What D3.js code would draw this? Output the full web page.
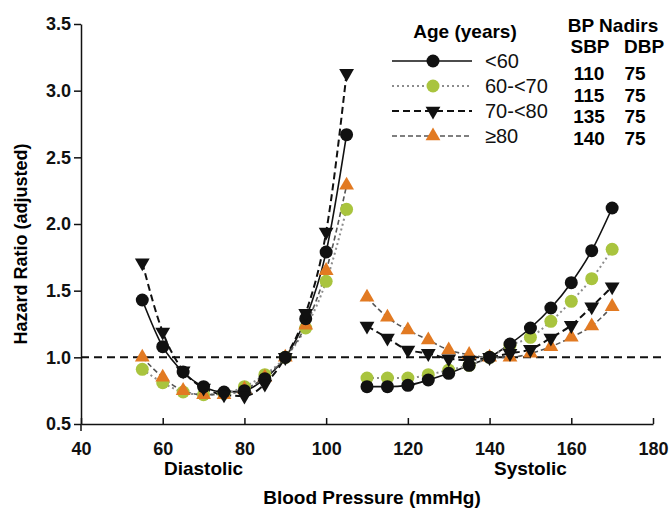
<!DOCTYPE html>
<html>
<head>
<meta charset="utf-8">
<script src="https://cdn.jsdelivr.net/npm/d3@7"></script>
<style>
  body { margin: 0; background: #fff; }
  svg { display: block; font-family: 'Liberation Sans', Arial, sans-serif; }
</style>
</head>
<body>
<svg id="chart" width="671" height="513"></svg>
<script>
// ── DATA ────────────────────────────────────────────────────────────────
const diaBP = [55, 60, 65, 70, 75, 80, 85, 90, 95, 100, 105];
const sysBP = [110, 115, 120, 125, 130, 135, 140, 145, 150, 155, 160, 165, 170];

const ageGroups = ['<60', '60-<70', '70-<80', '≥80'];

// hazard ratios, diastolic
const dia60   = [1.43, 1.08, 0.89, 0.78, 0.74, 0.75, 0.84, 1.0, 1.29, 1.79, 2.67];
const dia6070 = [0.91, 0.81, 0.74, 0.72, 0.73, 0.78, 0.87, 1.0, 1.22, 1.57, 2.11];
const dia7080 = [1.71, 1.19, 0.90, 0.77, 0.72, 0.71, 0.80, 1.0, 1.33, 1.94, 3.13];
const dia80   = [1.00, 0.85, 0.75, 0.72, 0.72, 0.76, 0.85, 1.0, 1.24, 1.65, 2.29];

// hazard ratios, systolic
const sys60   = [0.78, 0.78, 0.79, 0.83, 0.88, 0.94, 1.0, 1.10, 1.22, 1.37, 1.56, 1.80, 2.12];
const sys6070 = [0.845, 0.845, 0.845, 0.87, 0.905, 0.94, 1.0, 1.09, 1.15, 1.27, 1.42, 1.59, 1.81];
const sys7080 = [1.235, 1.145, 1.055, 1.03, 0.99, 0.98, 1.0, 1.03, 1.06, 1.145, 1.24, 1.38, 1.53];
const sys80   = [1.45, 1.30, 1.205, 1.13, 1.055, 1.02, 1.0, 1.0, 1.03, 1.08, 1.15, 1.235, 1.38];

const xTicks = [40, 60, 80, 100, 120, 140, 160, 180];
const yTicks = [0.5, 1.0, 1.5, 2.0, 2.5, 3.0, 3.5];

// BP nadir table
const nadirSBP = [110, 115, 135, 140];
const nadirDBP = [75, 75, 75, 75];

// ── STYLES PAR GROUPE ───────────────────────────────────────────────────
const styles = [
  { symbol: 'circle', fill: '#111', stroke: '#111', dash: null,      width: 1.6 },
  { symbol: 'circle', fill: '#a9c43e', stroke: '#8c8c8c', dash: '2,3', width: 2 },
  { symbol: 'down',   fill: '#111', stroke: '#111', dash: '7,4',     width: 2 },
  { symbol: 'up',     fill: '#e27a22', stroke: '#555', dash: '5,3',  width: 1.6 }
];

const series = [
  { dia: dia60,   sys: sys60 },
  { dia: dia6070, sys: sys6070 },
  { dia: dia7080, sys: sys7080 },
  { dia: dia80,   sys: sys80 }
];

// ── SCALES ──────────────────────────────────────────────────────────────
const svg = d3.select('#chart');
const x = d3.scaleLinear().domain([40, 180]).range([81, 653]);
const y = d3.scaleLinear().domain([0.5, 3.5]).range([424, 24]);

function marker(sel, st) {
  if (st.symbol === 'circle') {
    sel.append('circle').attr('r', 6.5).attr('fill', st.fill);
  } else {
    sel.append('path')
      .attr('d', d3.symbol(d3.symbolTriangle, 95)())
      .attr('transform', st.symbol === 'down' ? 'rotate(180)' : null)
      .attr('fill', st.fill);
  }
}

// Ligne de référence HR = 1
svg.append('line')
  .attr('x1', x(40)).attr('x2', x(180) + 12)
  .attr('y1', y(1)).attr('y2', y(1))
  .attr('stroke', '#111').attr('stroke-width', 2).attr('stroke-dasharray', '8,5');

// Courbes
const line = d3.line().x(d => x(d[0])).y(d => y(d[1])).curve(d3.curveMonotoneX);
series.forEach((s, i) => {
  const st = styles[i];
  [[diaBP, s.dia], [sysBP, s.sys]].forEach(([bp, hr]) => {
    svg.append('path')
      .datum(bp.map((v, k) => [v, hr[k]]))
      .attr('fill', 'none')
      .attr('stroke', st.stroke)
      .attr('stroke-width', st.width)
      .attr('stroke-dasharray', st.dash)
      .attr('d', line);
  });
});

// Marqueurs (ordre: vert, orange, rond noir, triangle noir)
[1, 3, 0, 2].forEach(i => {
  const s = series[i], st = styles[i];
  const pts = diaBP.map((v, k) => [v, s.dia[k]]).concat(sysBP.map((v, k) => [v, s.sys[k]]));
  const g = svg.append('g').selectAll('g').data(pts).enter().append('g')
    .attr('transform', d => `translate(${x(d[0])},${y(d[1])})`);
  marker(g, st);
});

// ── AXES ────────────────────────────────────────────────────────────────
const yAxis = svg.append('g')
  .attr('transform', `translate(${x(40)},0)`)
  .call(d3.axisLeft(y).tickValues(yTicks).tickFormat(d3.format('.1f')).tickSize(7).tickSizeOuter(0).tickPadding(3));

const xAxis = svg.append('g')
  .attr('transform', `translate(0,${y(0.5)})`)
  .call(d3.axisBottom(x).tickValues(xTicks).tickSize(-6).tickSizeOuter(0).tickPadding(18));

[yAxis, xAxis].forEach(a => {
  a.selectAll('path, line').attr('stroke', '#111').attr('stroke-width', 1.5);
  a.selectAll('text').attr('font-size', '18px').attr('font-weight', 'bold').attr('fill', '#111')
    .attr('font-family', "'Liberation Sans', Arial, sans-serif");
});
// petit prolongement de l'axe Y sous l'axe X
svg.append('line')
  .attr('x1', x(40)).attr('x2', x(40)).attr('y1', y(0.5)).attr('y2', y(0.5) + 7)
  .attr('stroke', '#111').attr('stroke-width', 1.5);

// Titres d'axes
svg.append('text')
  .attr('transform', `translate(27,${(y(0.5) + y(3.5)) / 2 + 20}) rotate(-90)`)
  .attr('text-anchor', 'middle').attr('font-size', '18px').attr('font-weight', 'bold')
  .text('Hazard Ratio (adjusted)');

svg.append('text').attr('x', x(70)).attr('y', 475)
  .attr('text-anchor', 'middle').attr('font-size', '19px').attr('font-weight', 'bold')
  .text('Diastolic');
svg.append('text').attr('x', x(150)).attr('y', 475)
  .attr('text-anchor', 'middle').attr('font-size', '19px').attr('font-weight', 'bold')
  .text('Systolic');
svg.append('text').attr('x', 372).attr('y', 504)
  .attr('text-anchor', 'middle').attr('font-size', '19px').attr('font-weight', 'bold')
  .text('Blood Pressure (mmHg)');

// ── LÉGENDE ─────────────────────────────────────────────────────────────
svg.append('text').attr('x', 465).attr('y', 38)
  .attr('text-anchor', 'middle').attr('font-size', '19px').attr('font-weight', 'bold')
  .text('Age (years)');

const legY = d3.scalePoint().domain(ageGroups).range([61, 136]);
ageGroups.forEach((name, i) => {
  const st = styles[i];
  const ly = legY(name);
  svg.append('line').attr('x1', 392).attr('x2', 472).attr('y1', ly).attr('y2', ly)
    .attr('stroke', st.stroke).attr('stroke-width', st.width).attr('stroke-dasharray', st.dash);
  const g = svg.append('g').attr('transform', `translate(433,${ly})`);
  marker(g, st);
  svg.append('text').attr('x', 485).attr('y', ly + 7)
    .attr('font-size', '20px').attr('fill', '#111').text(name);
});

// ── TABLE BP NADIRS ─────────────────────────────────────────────────────
svg.append('text').attr('x', 613).attr('y', 32)
  .attr('text-anchor', 'middle').attr('font-size', '19px').attr('font-weight', 'bold')
  .text('BP Nadirs');
svg.append('text').attr('x', 590).attr('y', 53)
  .attr('text-anchor', 'middle').attr('font-size', '19px').attr('font-weight', 'bold').text('SBP');
svg.append('text').attr('x', 644).attr('y', 53)
  .attr('text-anchor', 'middle').attr('font-size', '19px').attr('font-weight', 'bold').text('DBP');

const rowY = d3.scalePoint().domain(d3.range(nadirSBP.length)).range([80, 145]);
nadirSBP.forEach((v, i) => {
  svg.append('text').attr('x', 589).attr('y', rowY(i))
    .attr('text-anchor', 'middle').attr('font-size', '19px').attr('font-weight', 'bold').text(v);
  svg.append('text').attr('x', 635).attr('y', rowY(i))
    .attr('text-anchor', 'middle').attr('font-size', '19px').attr('font-weight', 'bold').text(nadirDBP[i]);
});
</script>
</body>
</html>
